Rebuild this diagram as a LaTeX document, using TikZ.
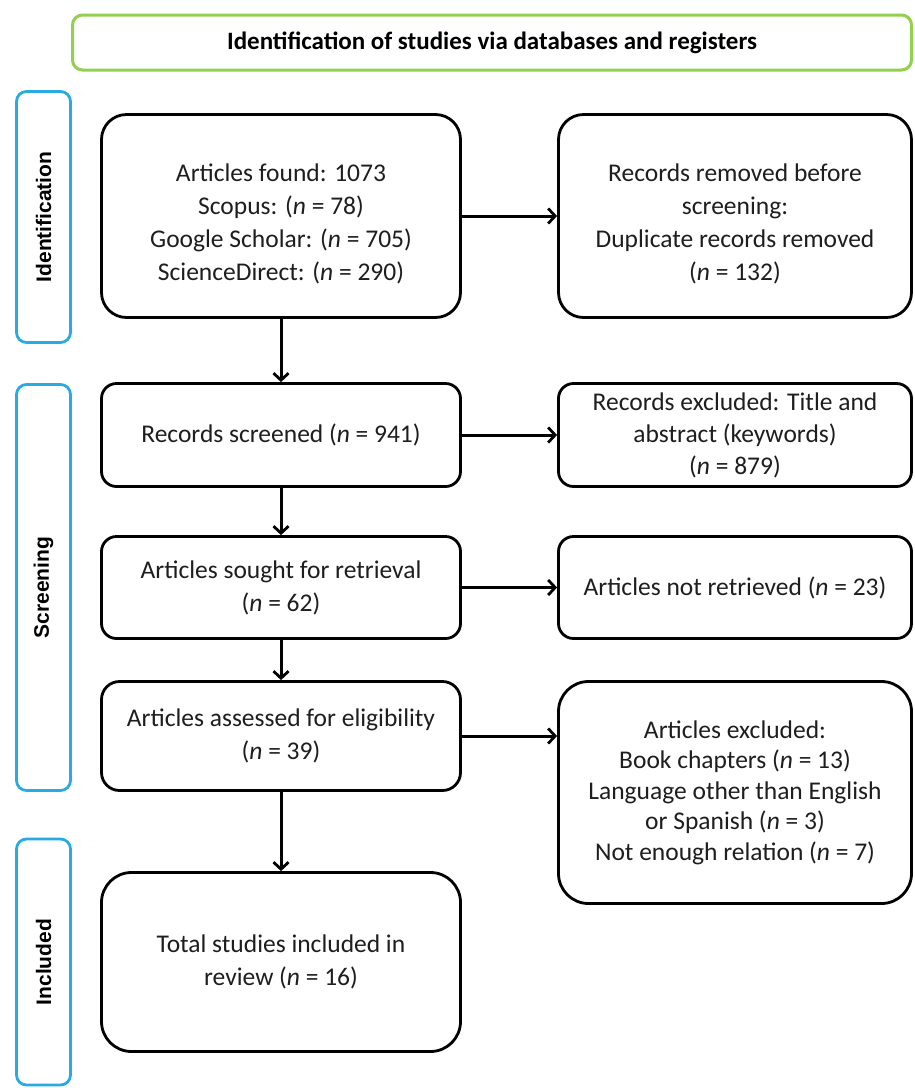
\documentclass[tikz,border=0pt]{standalone}
\usepackage{fontspec}
\setmainfont{Carlito}
\newfontfamily\sidefont{Liberation Sans}
\usetikzlibrary{arrows.meta,calc}
\definecolor{hdrgreen}{RGB}{146,208,80}
\definecolor{sideblue}{RGB}{41,171,226}
\definecolor{txt}{RGB}{30,30,30}
\begin{document}
\begin{tikzpicture}[x=1pt,y=-1pt,
  box/.style={draw=black, line width=2.8pt, align=center, text=txt,
    font=\fontsize{25.5}{33}\selectfont, inner sep=0pt},
  sidebox/.style={draw=sideblue, line width=2.8pt, rounded corners=10pt, rotate=90,
    font=\sidefont\bfseries\fontsize{21}{25}\selectfont, text=black, inner sep=0pt},
  hdrbox/.style={draw=hdrgreen, line width=3pt, rounded corners=10pt,
    font=\bfseries\fontsize{25}{30}\selectfont, text=black, inner sep=0pt},
  arr/.style={draw=black, line width=3pt, -{Straight Barb[length=7pt,width=15pt,line width=2.8pt]}}
]
\useasboundingbox (0,0) rectangle (914,1088);
\fill[white] (0,0) rectangle (914,1088);

% header
\node[hdrbox, minimum width=839pt, minimum height=55pt] (hdr) at (492,42.5)
  {Identification of studies via databases and registers};

% side labels
\node[sidebox, minimum width=251pt, minimum height=54pt] (sideid) at (43.5,217) {Identification};
\node[sidebox, minimum width=406pt, minimum height=54pt] (sidescr) at (43.5,587.5) {Screening};
\node[sidebox, minimum width=246pt, minimum height=54pt] (sideinc) at (43.5,962) {Included};

% main boxes
\node[box, rounded corners=25pt, minimum width=359pt, minimum height=203pt] (found) at (281,216)
  {\rule{0pt}{34pt}Articles found: 1073\\ Scopus: (\textit{n} = 78)\\ Google Scholar: (\textit{n} = 705)\\ ScienceDirect: (\textit{n} = 290)};
\node[box, rounded corners=25pt, minimum width=353pt, minimum height=203pt] (removed) at (735,216)
  {\rule{0pt}{34pt}Records removed before\\ screening:\\ Duplicate records removed\\ (\textit{n} = 132)};
\node[box, rounded corners=15pt, minimum width=359pt, minimum height=103pt] (screened) at (281,435)
  {Records screened (\textit{n} = 941)};
\node[box, rounded corners=15pt, minimum width=353pt, minimum height=103pt, font=\fontsize{25.5}{32}\selectfont] (excl1) at (735,435)
  {Records excluded: Title and\\ abstract (keywords)\\ (\textit{n} = 879)};
\node[box, rounded corners=15pt, minimum width=359pt, minimum height=102pt] (sought) at (281,587.5)
  {Articles sought for retrieval\\ (\textit{n} = 62)};
\node[box, rounded corners=15pt, minimum width=353pt, minimum height=102pt] (notretr) at (735,587.5)
  {Articles not retrieved (\textit{n} = 23)};
\node[box, rounded corners=18pt, minimum width=359pt, minimum height=109pt] (assessed) at (281,736)
  {Articles assessed for eligibility\\ (\textit{n} = 39)};
\node[box, rounded corners=30pt, minimum width=353pt, minimum height=222pt, font=\fontsize{25.5}{30.5}\selectfont] (excl2) at (735,792.5)
  {Articles excluded:\\ Book chapters (\textit{n} = 13)\\ Language other than English\\ or Spanish (\textit{n} = 3)\\ Not enough relation (\textit{n} = 7)};
\node[box, rounded corners=30pt, minimum width=359pt, minimum height=179pt] (total) at (281,962)
  {Total studies included in\\ review (\textit{n} = 16)};

% connectors
\draw[arr] (found) -- (removed);
\draw[arr] (found) -- (screened);
\draw[arr] (screened) -- (excl1);
\draw[arr] (screened) -- (sought);
\draw[arr] (sought) -- (notretr);
\draw[arr] (sought) -- (assessed);
\draw[arr] (assessed.east) -- (assessed.east -| excl2.west);
\draw[arr] (assessed) -- (total);
\end{tikzpicture}
\end{document}
